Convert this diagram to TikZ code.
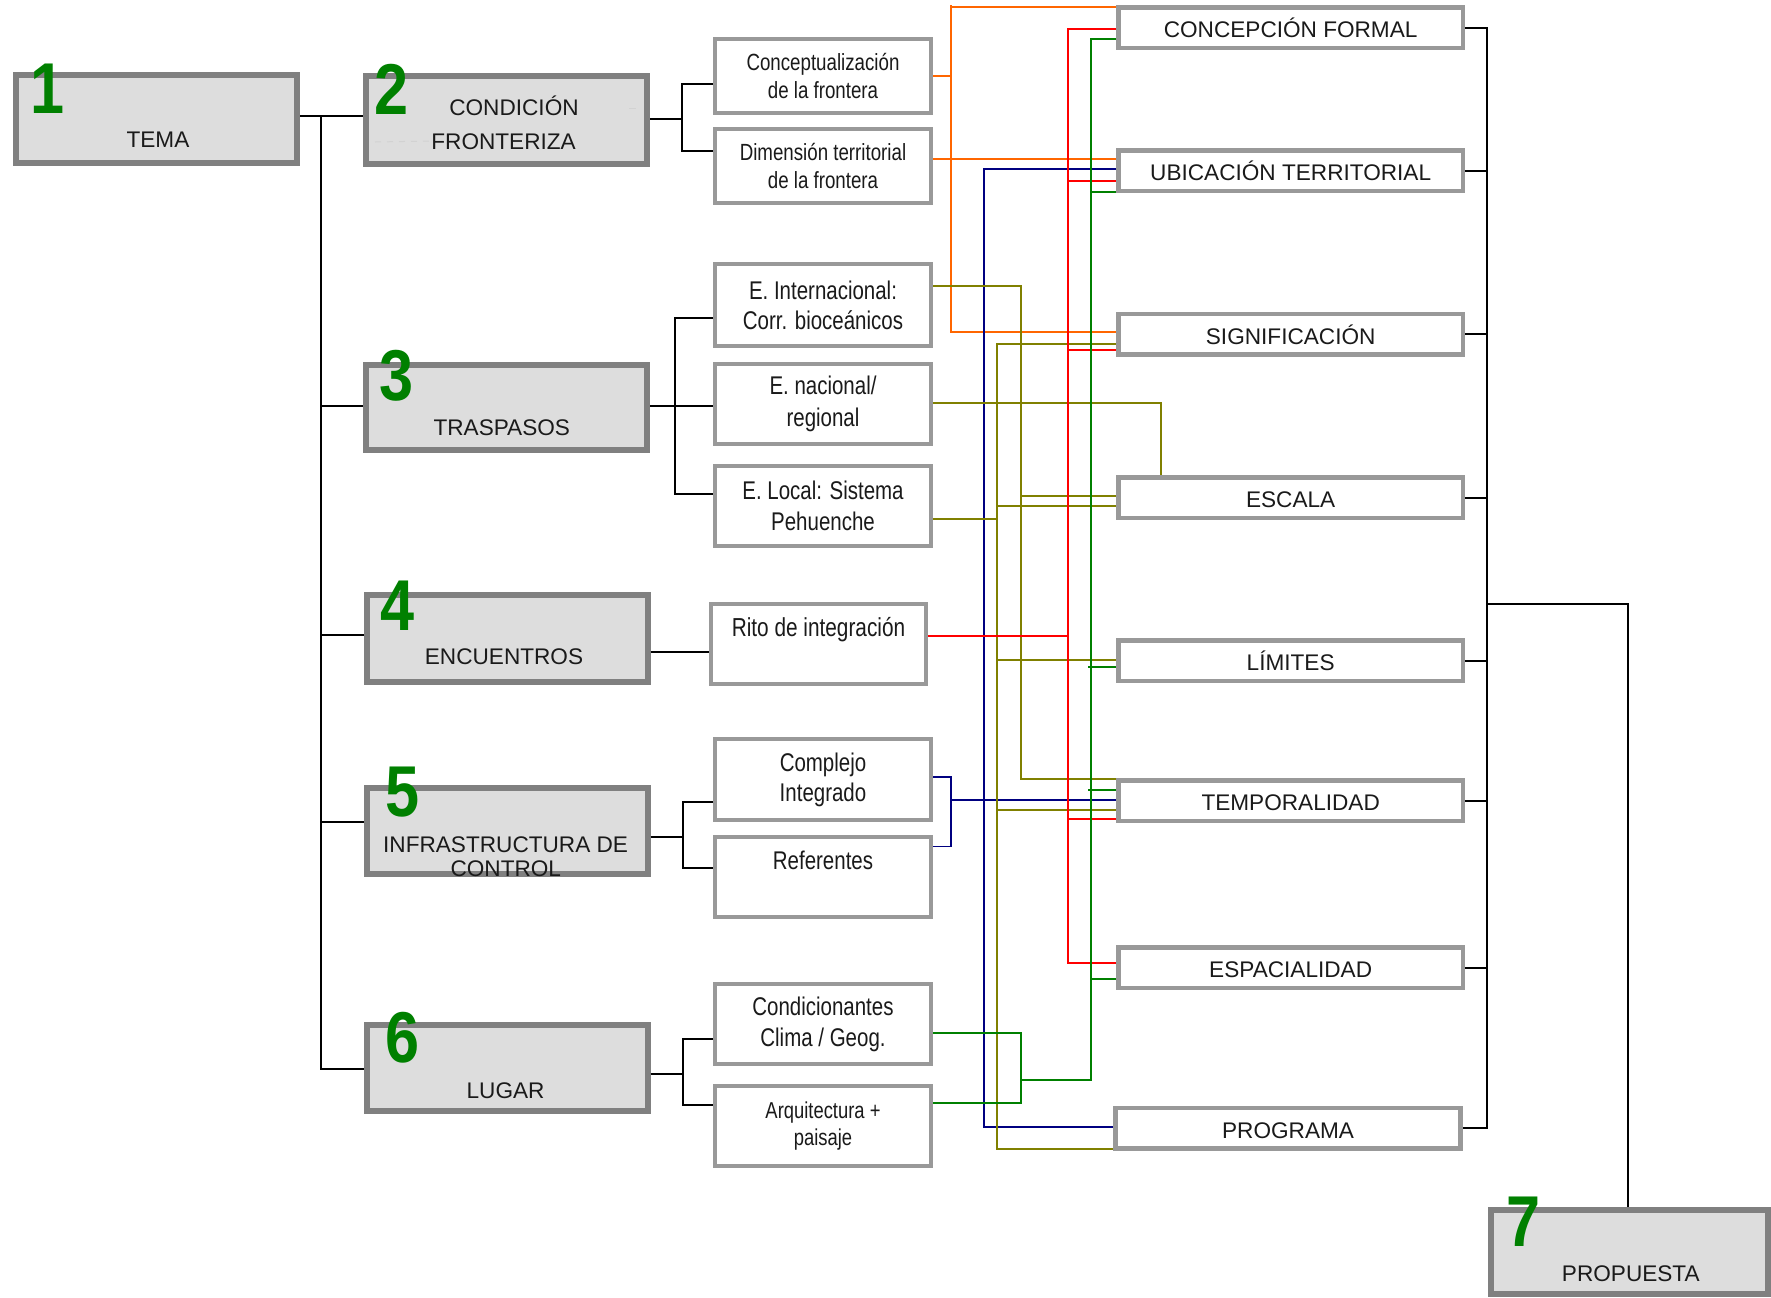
\documentclass[tikz,border=0pt]{standalone}
\usepackage{fontspec}
\setmainfont{Liberation Sans}
\newfontfamily\narrowfont[FakeStretch=0.8]{Liberation Sans}
\newfontfamily\digitfont[FakeStretch=0.85]{Liberation Sans}
\usetikzlibrary{calc}
\definecolor{boxgray}{HTML}{999999}
\definecolor{headgray}{HTML}{808080}
\definecolor{headfill}{HTML}{DDDDDD}
\definecolor{numgreen}{HTML}{008000}
\definecolor{cOrange}{HTML}{FF6600}
\definecolor{cNavy}{HTML}{000080}
\definecolor{cOlive}{HTML}{808000}
\definecolor{cRed}{HTML}{FF0000}
\definecolor{cGreen}{HTML}{008000}
\definecolor{inkgray}{HTML}{1A1A1A}
\begin{document}
\begin{tikzpicture}[x=0.5pt,y=-0.5pt,
  headbox/.style={draw=headgray, fill=headfill, line width=3pt,
    minimum width=140.5pt, minimum height=43pt, inner sep=0pt},
  headlabel/.style={font=\fontsize{11.3}{13}\selectfont, inner sep=0pt,
    text height=8.1pt, text depth=0pt, text=inkgray},
  numlabel/.style={font=\digitfont\bfseries\fontsize{36}{36}\selectfont,
    text=numgreen, inner sep=0pt, text height=25.8pt, text depth=0pt},
  midbox/.style={draw=boxgray, fill=white, line width=2pt, minimum width=108pt,
    inner sep=0pt, align=center, text=inkgray},
  rightbox/.style={draw=boxgray, fill=white, line width=2.25pt,
    minimum width=172.4pt, minimum height=20.25pt, inner sep=0pt,
    font=\fontsize{11.3}{13}\selectfont, text height=10.1pt, text depth=0pt,
    text=inkgray},
  conn/.style={line width=1pt, black},
  link/.style={line width=0.85pt},
]
\fill[white] (0,0) rectangle (1771,1297);
\useasboundingbox (0,0) rectangle (1771,1297);

% ---------- main themes (left column) ----------
\node[headbox, minimum width=140.75pt, minimum height=44pt] (tema) at (156.25,119) {};
\node[headbox, minimum height=44pt] (cond) at (506.5,120) {};
\node[headbox, minimum height=42.5pt] (trasp) at (506.5,407.5) {};
\node[headbox, minimum height=43.5pt] (enc) at (507,638.5) {};
\node[headbox] (infra) at (507,831) {};
\node[headbox] (lugar) at (507,1068) {};
\node[headbox, minimum width=138.75pt, minimum height=42pt] (propuesta) at (1629.25,1252) {};

\node[numlabel] (n1) at (48,87.5) {1};
\node[numlabel] (n2) at (392,89) {2};
\node[numlabel] (n3) at (397,374.5) {3};
\node[numlabel] (n4) at (398,604.5) {4};
\node[numlabel] (n5) at (403,791) {5};
\node[numlabel] (n6) at (403,1037) {6};
\node[numlabel] (n7) at (1523.5,1220.5) {7};

\node[headlabel] (tTema) at (158,139.3) {TEMA};
\node[headlabel] (tCond1) at (514,107) {CONDICIÓN};
\node[headlabel] (tCond2) at (503.6,141) {FRONTERIZA};
\draw[gray!35, dashed, line width=0.5pt] (375,142) -- (tCond2.west);
\draw[gray!35, line width=0.5pt] (629,108) -- (636,108);
\node[headlabel] (tTrasp) at (501.8,427.5) {TRASPASOS};
\node[headlabel] (tEnc) at (504,656.8) {ENCUENTROS};
\node[headlabel] (tInfra1) at (505.6,844.3) {INFRASTRUCTURA DE};
\node[headlabel] (tInfra2) at (505.8,868) {CONTROL};
\node[headlabel] (tLugar) at (505.6,1090) {LUGAR};
\node[headlabel] (tProp) at (1630.8,1273.8) {PROPUESTA};

% ---------- sub-themes (middle column) ----------
\node[midbox, minimum height=37.15pt, font=\narrowfont\fontsize{11.7}{14.3}\selectfont]
  (concept) at (823,75.85) {Conceptualización\\de la frontera};
\node[midbox, minimum height=37.15pt, font=\narrowfont\fontsize{11.7}{14.3}\selectfont]
  (dimens) at (823,165.85) {Dimensión territorial\\de la frontera};
\node[midbox, minimum height=41.15pt, font=\narrowfont\fontsize{12.8}{15}\selectfont]
  (einter) at (823,304.85) {E. Internacional:\\Corr. bioceánicos};
\node[midbox, minimum height=40.25pt, font=\narrowfont\fontsize{12.8}{15.7}\selectfont]
  (enac) at (823,403.75) {E. nacional/\\regional};
\node[midbox, minimum height=40pt, font=\narrowfont\fontsize{12.8}{15.5}\selectfont]
  (eloc) at (823,506) {E. Local: Sistema\\Pehuenche};
\node[midbox, minimum width=107.5pt, minimum height=40.1pt, font=\narrowfont\fontsize{13}{15.5}\selectfont]
  (rito) at (818.5,643.9) {Rito de integración\\[-3pt]\strut};
\node[midbox, minimum height=40.1pt, font=\narrowfont\fontsize{12.8}{15}\selectfont]
  (complejo) at (823,779.5) {Complejo\\Integrado};
\node[midbox, minimum height=40.1pt, font=\narrowfont\fontsize{12.8}{15.5}\selectfont]
  (referentes) at (823,876.9) {Referentes\\[-3pt]\strut};
\node[midbox, minimum height=39.8pt, font=\narrowfont\fontsize{12.8}{15.5}\selectfont]
  (condic) at (823,1024.2) {Condicionantes\\Clima / Geog.};
\node[midbox, minimum height=39.85pt, font=\narrowfont\fontsize{11.5}{13.5}\selectfont]
  (arquit) at (823,1125.85) {Arquitectura +\\paisaje};

% ---------- design criteria (right column) ----------
\node[rightbox] (concepcion) at (1290.65,27.85) {CONCEPCIÓN FORMAL};
\node[rightbox] (ubicacion) at (1290.65,170.5) {UBICACIÓN TERRITORIAL};
\node[rightbox] (signif) at (1290.65,334.2) {SIGNIFICACIÓN};
\node[rightbox] (escala) at (1290.65,497.5) {ESCALA};
\node[rightbox] (limites) at (1290.65,660.8) {LÍMITES};
\node[rightbox] (temporal) at (1290.65,800.8) {TEMPORALIDAD};
\node[rightbox] (espacial) at (1290.65,967.5) {ESPACIALIDAD};
\node[rightbox] (programa) at (1288.05,1128) {PROGRAMA};

% ---------- tree connectors ----------
\coordinate (trunk) at (321.4,115.6);
\coordinate (trunkEnd) at (321.4,1068.6);
\coordinate (b3) at (321.4,406);
\coordinate (b4) at (321.4,635);
\coordinate (b5) at (321.4,821.7);
\draw[conn] (tema.east |- trunk) -- (cond.west |- trunk);
\draw[conn] (trunk) -- (trunkEnd) -- (lugar.west |- trunkEnd);
\draw[conn] (b3) -- (trasp.west |- b3);
\draw[conn] (b4) -- (enc.west |- b4);
\draw[conn] (b5) -- (infra.west |- b5);

\coordinate (k2) at (681.7,119);
\coordinate (k2a) at (681.7,84);
\coordinate (k2b) at (681.7,150.7);
\draw[conn] (cond.east |- k2) -- (k2);
\draw[conn] (concept.west |- k2a) -| (k2b) -- (dimens.west |- k2b);

\coordinate (k3) at (675,406);
\coordinate (k3a) at (675,317.7);
\coordinate (k3b) at (675,493.6);
\draw[conn] (trasp.east |- k3) -- (enac.west |- k3);
\draw[conn] (einter.west |- k3a) -| (k3b) -- (eloc.west |- k3b);

\coordinate (k4) at (680,651.5);
\draw[conn] (enc.east |- k4) -- (rito.west |- k4);

\coordinate (k5) at (683,837);
\coordinate (k5a) at (683,802);
\coordinate (k5b) at (683,868.4);
\draw[conn] (infra.east |- k5) -- (k5);
\draw[conn] (complejo.west |- k5a) -| (k5b) -- (referentes.west |- k5b);

\coordinate (k6) at (683,1073.5);
\coordinate (k6a) at (683,1039);
\coordinate (k6b) at (683,1105);
\draw[conn] (lugar.east |- k6) -- (k6);
\draw[conn] (condic.west |- k6a) -| (k6b) -- (arquit.west |- k6b);

% right-hand collector bus towards the proposal
\coordinate (bus) at (1487.4,0);
\draw[conn] (concepcion.east) -- (concepcion.east -| bus) -- (programa.east -| bus) -- (programa.east);
\foreach \n in {ubicacion,signif,escala,limites,temporal,espacial}
  \draw[conn] (\n.east) -- (\n.east -| bus);
\coordinate (pj) at (1487.4,604);
\coordinate (pd) at (1627.7,604);
\draw[conn] (pj) -- (pd) -- (propuesta.north -| pd);

% ---------- cross relations ----------
% orange
\coordinate (oTop) at (951,5);
\coordinate (oBot) at (951,332.3);
\coordinate (o1) at (951,7.3);
\coordinate (o2) at (951,76);
\coordinate (o3) at (951,159.3);
\draw[link, cOrange] (oTop) -- (oBot) -- (signif.west |- oBot);
\draw[link, cOrange] (o1) -- (concepcion.west |- o1);
\draw[link, cOrange] (concept.east |- o2) -- (o2);
\draw[link, cOrange] (dimens.east |- o3) -- (ubicacion.west |- o3);

% navy
\coordinate (nv1) at (983.7,169.3);
\coordinate (nv2) at (983.7,1126.7);
\coordinate (nv3) at (951,776.8);
\coordinate (nv4) at (951,846.4);
\coordinate (nv5) at (951,800);
\draw[link, cNavy] (ubicacion.west |- nv1) -- (nv1) -- (nv2) -- (programa.west |- nv2);
\draw[link, cNavy] (complejo.east |- nv3) -- (nv3) -- (nv4) -- (referentes.east |- nv4);
\draw[link, cNavy] (nv5) -- (temporal.west |- nv5);

% olive
\coordinate (v1a) at (997,344.3);
\coordinate (v1b) at (997,1149.3);
\coordinate (v1c) at (997,519.3);
\coordinate (v1d) at (997,505.7);
\coordinate (v1e) at (997,660);
\coordinate (v1f) at (997,810);
\draw[link, cOlive] (signif.west |- v1a) -- (v1a) -- (v1b) -- (programa.west |- v1b);
\draw[link, cOlive] (eloc.east |- v1c) -- (v1c);
\draw[link, cOlive] (v1d) -- (escala.west |- v1d);
\draw[link, cOlive] (v1e) -- (limites.west |- v1e);
\draw[link, cOlive] (v1f) -- (temporal.west |- v1f);
\coordinate (v2a) at (1020.7,285.7);
\coordinate (v2b) at (1020.7,779);
\coordinate (v2c) at (1020.7,496.3);
\draw[link, cOlive] (einter.east |- v2a) -- (v2a) -- (v2b) -- (temporal.west |- v2b);
\draw[link, cOlive] (v2c) -- (escala.west |- v2c);
\coordinate (v3) at (1161,402.7);
\draw[link, cOlive] (enac.east |- v3) -- (v3) -- (escala.north -| v3);

% red
\coordinate (r1) at (1067.7,29);
\coordinate (r2) at (1067.7,963.3);
\coordinate (r3) at (1067.7,180.7);
\coordinate (r4) at (1067.7,350);
\coordinate (r5) at (1067.7,636.2);
\coordinate (r6) at (1067.7,819.3);
\draw[link, cRed] (concepcion.west |- r1) -- (r1) -- (r2) -- (espacial.west |- r2);
\draw[link, cRed] (r3) -- (ubicacion.west |- r3);
\draw[link, cRed] (r4) -- (signif.west |- r4);
\draw[link, cRed] (rito.east |- r5) -- (r5);
\draw[link, cRed] (r6) -- (temporal.west |- r6);

% green
\coordinate (g1) at (1091,39);
\coordinate (g2) at (1091,1080);
\coordinate (g3) at (1021,1080);
\coordinate (g4) at (1091,192.3);
\coordinate (g5) at (1088,667.3);
\coordinate (g6) at (1088,790);
\coordinate (g7) at (1091,979);
\coordinate (g8) at (1021,1033.3);
\coordinate (g9) at (1021,1103.3);
\draw[link, cGreen] (concepcion.west |- g1) -- (g1) -- (g2) -- (g3);
\draw[link, cGreen] (g4) -- (ubicacion.west |- g4);
\draw[link, cGreen] (g5) -- (limites.west |- g5);
\draw[link, cGreen] (g6) -- (temporal.west |- g6);
\draw[link, cGreen] (g7) -- (espacial.west |- g7);
\draw[link, cGreen] (condic.east |- g8) -- (g8) -- (g9) -- (arquit.east |- g9);
\end{tikzpicture}
\end{document}
